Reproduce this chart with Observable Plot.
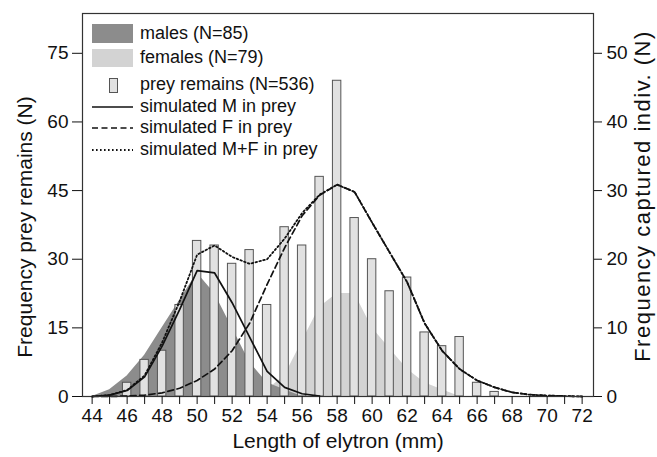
<!DOCTYPE html>
<html><head><meta charset="utf-8">
<script src="https://cdn.jsdelivr.net/npm/d3@7"></script>
<script src="https://cdn.jsdelivr.net/npm/@observablehq/plot@0.6"></script>
<style>
body{margin:0;background:#fff;}
#wrap{position:relative;width:657px;height:457px;font-family:"Liberation Sans",Arial,sans-serif;}
#wrap svg{display:block;}
#legend{position:absolute;left:0;top:0;}
</style></head><body><div id="wrap"></div>
<script>
// ---- data ----
const preyLengths = [46,47,48,49,50,51,52,53,54,55,56,57,58,59,60,61,62,63,64,65,66,67];
const preyCounts  = [3,8,10,20,34,33,29,32,20,37,33,48,69,39,30,23,26,14,11,13,3,1];

const maleLengths = [44,45,46,47,48,49,50,51,52,53,54,55,56];
const maleCounts  = [0,1,3,6,10,14,18,15,10,5,2,1,0];          // right axis (captured)

const femaleLengths = [53,54,55,56,57,58,59,60,61,62,63,64,65];
const femaleCounts  = [0,1,3,8,13,15,15,10,7,4,2,1,0];         // right axis (captured)

const simMLengths = [44,45,46,47,48,49,50,51,52,53,54,55,56,57];
const simMValues  = [0,0.3,1.3,4.3,11,19,27.5,27,20.5,13,5.5,2,0.6,0.1];

const simFLengths = [44,45,46,47,48,49,50,51,52,53,54,55,56,57,58,59,60,61,62,63,64,65,66,67,68,69,70,71,72];
const simFValues  = [0,0,0.1,0.3,0.8,1.8,3.5,6,10,16,24.5,32.5,39.5,44,46.3,44.7,38,31.5,25,16,10,6,3.5,2,0.9,0.4,0.2,0.1,0];

const xTicks = d3.range(44, 73, 1);
const leftTicks = [0,15,30,45,60,75];
const rightTicks = [0,10,20,30,40,50];

const legendLabels = ["males (N=85)","females (N=79)","prey remains (N=536)","simulated M in prey","simulated F in prey","simulated M+F in prey"];

// ---- build tables ----
const RIGHT_TO_LEFT = 75/50; // right axis value -> left axis units
const prey = preyLengths.map((x,i)=>({x, n: preyCounts[i]}));
const males = maleLengths.map((x,i)=>({x, n: maleCounts[i]*RIGHT_TO_LEFT}));
const females = femaleLengths.map((x,i)=>({x, n: femaleCounts[i]*RIGHT_TO_LEFT}));
const simM = simMLengths.map((x,i)=>({x, n: simMValues[i]}));
const simF = simFLengths.map((x,i)=>({x, n: simFValues[i]}));
const mMap = new Map(simM.map(d=>[d.x,d.n]));
const simMF = simF.map(d=>({x:d.x, n: d.n + (mMap.get(d.x)||0)}));

const maleColor = "#8c8c8c", femaleColor = "#d3d3d3", barFill = "#e1e1e1", barStroke = "#555";
const FONT = "Liberation Sans, Arial, sans-serif";

const chart = Plot.plot({
  width: 657, height: 457,
  marginLeft: 82, marginRight: 64, marginTop: 13, marginBottom: 61,
  style: {fontFamily: FONT, fontSize: "18px", color: "#111", background: "#fff"},
  x: {domain: [43.45, 72.65]},
  y: {domain: [0, 83.7]},
  marks: [
    Plot.areaY(females, {x: "x", y: "n", fill: femaleColor}),
    Plot.areaY(males, {x: "x", y: "n", fill: maleColor}),
    Plot.rect(prey, {x1: d=>d.x-0.24, x2: d=>d.x+0.24, y1: 0, y2: "n", fill: barFill, stroke: barStroke, strokeWidth: 1}),
    Plot.line(simMF, {x: "x", y: "n", stroke: "#111", strokeWidth: 1.8, strokeDasharray: "1.6,2.4"}),
    Plot.line(simF, {x: "x", y: "n", stroke: "#111", strokeWidth: 1.7, strokeDasharray: "6,3.5"}),
    Plot.line(simM, {x: "x", y: "n", stroke: "#111", strokeWidth: 1.7}),
    Plot.frame({stroke: "#333", strokeWidth: 1.2}),
    Plot.axisX(xTicks, {anchor: "bottom", tickSize: 8, tickPadding: 4, tickFormat: d => d % 2 === 0 ? String(d) : "", label: null, fontSize: 19}),
    Plot.axisY(leftTicks, {anchor: "left", tickSize: 10, tickPadding: 4, label: null, fontSize: 19}),
    Plot.axisY(rightTicks.map(v=>v*RIGHT_TO_LEFT), {anchor: "right", tickSize: 8, tickPadding: 5, tickFormat: d => String(Math.round(d/RIGHT_TO_LEFT)), label: null, fontSize: 19}),
    Plot.text(["Length of elytron (mm)"], {frameAnchor: "bottom", lineAnchor: "middle", textAnchor: "middle", dy: 45, fontSize: 21, fill: "#111"}),
    Plot.text(["Frequency prey remains (N)"], {frameAnchor: "left", textAnchor: "middle", lineAnchor: "middle", rotate: -90, dx: -57, dy: 22, fontSize: 21, fill: "#111"}),
    Plot.text(["Frequency captured indiv. (N)"], {frameAnchor: "right", textAnchor: "middle", lineAnchor: "middle", rotate: -90, dx: 49, dy: -9, fontSize: 22, fill: "#111", style: "letter-spacing:1.5px"})
  ]
});
const wrap = document.getElementById("wrap");
wrap.appendChild(chart);
// letter spacing for the right axis title
d3.select(chart).selectAll("text").filter(function(){ return this.textContent === "Frequency captured indiv. (N)"; }).style("letter-spacing","1.5px");

// ---- legend overlay ----
const lg = d3.select(wrap).append("svg").attr("id","legend").attr("width",657).attr("height",170);
const rowsY = [33, 56.5, 83.5, 106, 127, 148.5];
const sw = [
  g => g.append("rect").attr("x",92).attr("y",24).attr("width",41).attr("height",19).attr("fill",maleColor),
  g => g.append("rect").attr("x",92).attr("y",49).attr("width",41).attr("height",18).attr("fill",femaleColor),
  g => g.append("rect").attr("x",109.5).attr("y",78.5).attr("width",8).attr("height",14).attr("fill",barFill).attr("stroke",barStroke),
  g => g.append("line").attr("x1",92).attr("x2",133).attr("y1",107).attr("y2",107).attr("stroke","#111").attr("stroke-width",1.7),
  g => g.append("line").attr("x1",92).attr("x2",133).attr("y1",128).attr("y2",128).attr("stroke","#111").attr("stroke-width",1.7).attr("stroke-dasharray","6,3.5"),
  g => g.append("line").attr("x1",92).attr("x2",133).attr("y1",150).attr("y2",150).attr("stroke","#111").attr("stroke-width",1.8).attr("stroke-dasharray","1.6,2.4")
];
legendLabels.forEach((t,i)=>{
  sw[i](lg);
  lg.append("text").attr("x",140).attr("y",rowsY[i]).attr("dy","0.35em")
    .attr("font-family",FONT).attr("font-size",18).attr("fill","#111").text(t);
});
</script>
</body></html>
